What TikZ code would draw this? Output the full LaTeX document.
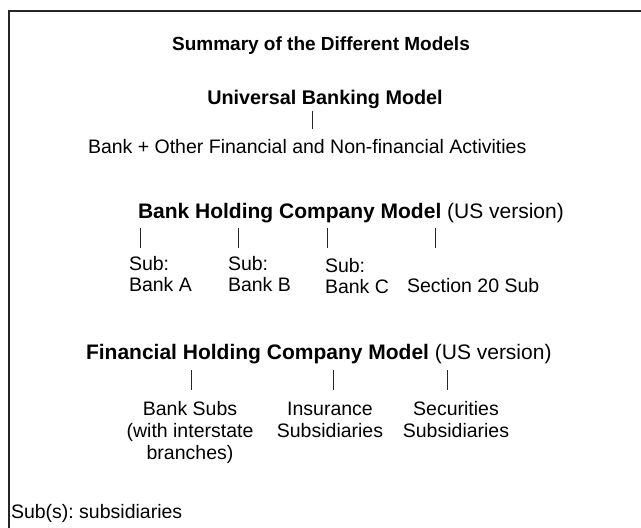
\documentclass[tikz,border=0pt]{standalone}
\usepackage{fontspec}
\setmainfont{Liberation Sans}
\frenchspacing
\begin{document}
\begin{tikzpicture}[x=1pt,y=-1pt,
  every node/.style={inner sep=0pt,outer sep=0pt},
  ttl/.style={font=\fontsize{19}{22}\selectfont\bfseries,anchor=base},
  hdg/.style={font=\fontsize{21}{24}\selectfont,anchor=base west},
  lbl/.style={font=\fontsize{19.5}{21}\selectfont},
  lblc/.style={font=\fontsize{19.5}{22}\selectfont,anchor=base},
  conn/.style={line width=0.9pt,draw=black!85},
  frame/.style={line width=1.3pt,draw=black!85}]
\useasboundingbox (0,0) rectangle (641,528);
\draw[frame] (9,528) -- (9,11) -- (641,11);

\node[ttl] (title) at (321,50) {Summary of the Different Models};
\node[ttl,font=\fontsize{19.8}{22}\selectfont\bfseries] (ubm) at (325,104) {Universal Banking Model};
\node[lbl,anchor=base west] (ubmdesc) at (88,153) {Bank + Other Financial and Non-financial Activities};
\coordinate (u1t) at (312,111); \coordinate (u1b) at (312,129);
\draw[conn] (u1t) -- (u1b);

\node[hdg] (bhc) at (138,218) {\textbf{Bank Holding Company Model} (US version)};
\node[lbl,anchor=base west] (subA) at (129,270) {\begin{tabular}[t]{@{}l@{}}Sub:\\Bank A\end{tabular}};
\node[lbl,anchor=base west] (subB) at (228,270) {\begin{tabular}[t]{@{}l@{}}Sub:\\Bank B\end{tabular}};
\node[lbl,anchor=base west] (subC) at (325,272) {\begin{tabular}[t]{@{}l@{}}Sub:\\Bank C\end{tabular}};
\node[lbl,anchor=base west] (sec20) at (407,292) {Section 20 Sub};
\coordinate (b1t) at (140,228); \coordinate (b1b) at (140,248);
\coordinate (b2t) at (238,228); \coordinate (b2b) at (238,248);
\coordinate (b3t) at (327,228); \coordinate (b3b) at (327,248);
\coordinate (b4t) at (435,228); \coordinate (b4b) at (435,248);
\draw[conn] (b1t) -- (b1b);
\draw[conn] (b2t) -- (b2b);
\draw[conn] (b3t) -- (b3b);
\draw[conn] (b4t) -- (b4b);

\node[hdg] (fhc) at (86,359) {\textbf{Financial Holding Company Model} (US version)};
\node[lblc] (banksubs) at (190,415) {\begin{tabular}[t]{@{}c@{}}Bank Subs\\(with interstate\\branches)\end{tabular}};
\node[lblc] (ins) at (330,415) {\begin{tabular}[t]{@{}c@{}}Insurance\\Subsidiaries\end{tabular}};
\node[lblc] (secs) at (456,415) {\begin{tabular}[t]{@{}c@{}}Securities\\Subsidiaries\end{tabular}};
\coordinate (f1t) at (191,370); \coordinate (f1b) at (191,390);
\coordinate (f2t) at (333,370); \coordinate (f2b) at (333,390);
\coordinate (f3t) at (447,370); \coordinate (f3b) at (447,390);
\draw[conn] (f1t) -- (f1b);
\draw[conn] (f2t) -- (f2b);
\draw[conn] (f3t) -- (f3b);

\node[lbl,anchor=base west] (note) at (11,518) {Sub(s): subsidiaries};
\end{tikzpicture}
\end{document}
